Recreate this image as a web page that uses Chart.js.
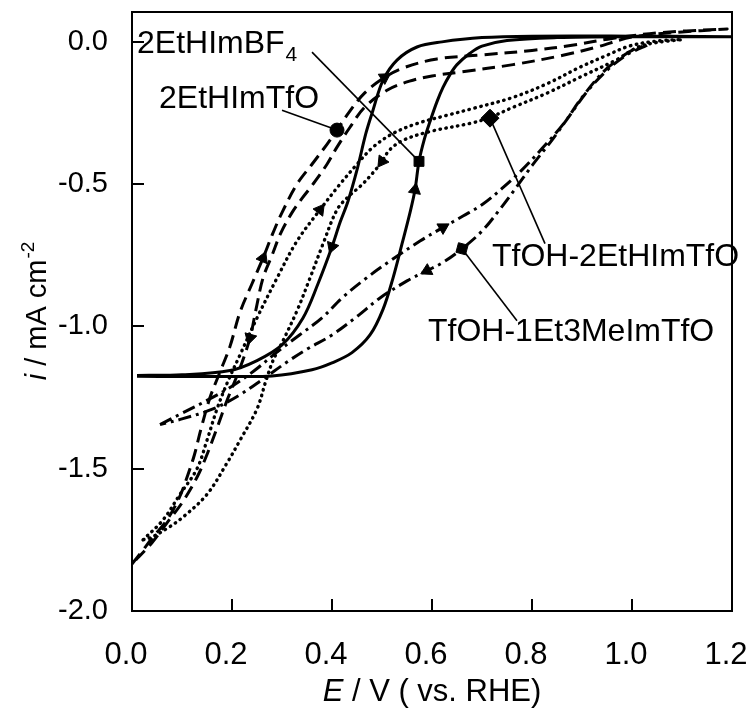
<!DOCTYPE html>
<html>
<head>
<meta charset="utf-8">
<script src="https://cdn.jsdelivr.net/npm/chart.js@4.4.1/dist/chart.umd.min.js"></script>
<style>
  html, body { margin: 0; padding: 0; background: #fff; }
  canvas { display: block; }
</style>
</head>
<body>
<canvas id="cv" width="751" height="713"></canvas>
<script>
// axis ticks
const xTicks = [0.0, 0.2, 0.4, 0.6, 0.8, 1.0, 1.2];
const xTickLabels = ['0.0', '0.2', '0.4', '0.6', '0.8', '1.0', '1.2'];
const yTicks = [-2.0, -1.5, -1.0, -0.5, 0.0];
const yTickLabels = ['-2.0', '-1.5', '-1.0', '-0.5', '0.0'];

// 2EtHImBF4 (solid) - forward sweep then return sweep
const bf4E = [0.01, 0.1, 0.2, 0.28, 0.36, 0.40, 0.44, 0.476, 0.502, 0.522, 0.54, 0.556, 0.566, 0.574, 0.585, 0.596, 0.61, 0.622, 0.636, 0.65, 0.676, 0.7, 0.75, 0.85, 1.0, 1.2,
              1.0, 0.8, 0.7, 0.62, 0.57, 0.53, 0.502, 0.482, 0.468, 0.45, 0.432, 0.416, 0.4, 0.372, 0.342, 0.3, 0.25, 0.196, 0.1, 0.01];
const bf4I = [-1.175, -1.176, -1.176, -1.174, -1.152, -1.128, -1.092, -1.03, -0.94, -0.83, -0.71, -0.6, -0.52, -0.42, -0.34, -0.28, -0.21, -0.16, -0.115, -0.08, -0.04, -0.015, 0.005, 0.015, 0.018, 0.018,
              0.02, 0.02, 0.015, 0.0, -0.018, -0.064, -0.135, -0.24, -0.32, -0.45, -0.56, -0.635, -0.72, -0.85, -0.97, -1.065, -1.12, -1.155, -1.17, -1.172];
const bf4Arrows = [12, 38];

// 2EtHImTfO (dashed)
const tfoE = [0.0, 0.02, 0.042, 0.07, 0.095, 0.112, 0.125, 0.138, 0.156, 0.176, 0.196, 0.216, 0.24, 0.262, 0.28, 0.3, 0.33, 0.36, 0.39, 0.41, 0.435, 0.465, 0.505, 0.545, 0.61, 0.7, 0.8, 0.88, 0.96, 1.06, 1.19,
              1.1, 1.0, 0.93, 0.862, 0.762, 0.66, 0.6, 0.555, 0.51, 0.465, 0.436, 0.41, 0.39, 0.362, 0.34, 0.32, 0.298, 0.28, 0.262, 0.248, 0.236, 0.216, 0.19, 0.17, 0.15, 0.13, 0.1, 0.07, 0.04, 0.0];
const tfoI = [-1.835, -1.79, -1.74, -1.68, -1.6, -1.52, -1.45, -1.36, -1.25, -1.16, -1.07, -0.95, -0.85, -0.76, -0.68, -0.6, -0.5, -0.43, -0.36, -0.31, -0.245, -0.18, -0.125, -0.09, -0.06, -0.046, -0.03, -0.012, 0.012, 0.033, 0.045,
              0.035, 0.017, -0.018, -0.047, -0.08, -0.105, -0.12, -0.138, -0.17, -0.23, -0.3, -0.37, -0.43, -0.5, -0.55, -0.6, -0.67, -0.75, -0.83, -0.94, -1.04, -1.146, -1.26, -1.357, -1.45, -1.53, -1.62, -1.69, -1.76, -1.835];
const tfoArrows = [13, 22, 51];

// TfOH-2EtHImTfO (dotted)
const tfoh2E = [0.022, 0.062, 0.096, 0.13, 0.15, 0.17, 0.19, 0.216, 0.25, 0.29, 0.33, 0.376, 0.416, 0.45, 0.482, 0.522, 0.57, 0.63, 0.682, 0.762, 0.83, 0.896, 0.95, 0.996, 1.05, 1.1,
                1.05, 1.01, 0.97, 0.896, 0.83, 0.762, 0.716, 0.68, 0.596, 0.542, 0.515, 0.5, 0.482, 0.458, 0.432, 0.41, 0.382, 0.356, 0.33, 0.302, 0.282, 0.268, 0.25, 0.216, 0.19, 0.15, 0.102, 0.07, 0.04, 0.022];
const tfoh2I = [-1.75, -1.68, -1.59, -1.5, -1.4, -1.29, -1.2, -1.1, -0.97, -0.83, -0.7, -0.59, -0.5, -0.43, -0.37, -0.322, -0.287, -0.258, -0.234, -0.195, -0.147, -0.089, -0.047, -0.014, 0.003, 0.008,
                -0.002, -0.02, -0.062, -0.124, -0.18, -0.23, -0.265, -0.285, -0.315, -0.346, -0.38, -0.42, -0.46, -0.505, -0.545, -0.59, -0.71, -0.83, -0.945, -1.05, -1.12, -1.19, -1.29, -1.4, -1.48, -1.59, -1.67, -1.71, -1.74, -1.75];
const tfoh2Arrows = [11, 37];

// TfOH-1Et3MeImTfO (dash-dot)
const tfoh1E = [0.056, 0.1, 0.15, 0.2, 0.245, 0.29, 0.335, 0.38, 0.42, 0.465, 0.516, 0.576, 0.622, 0.662, 0.702, 0.74, 0.78, 0.82, 0.862, 0.9, 0.94, 0.97, 1.0, 1.03,
                0.99, 0.95, 0.91, 0.875, 0.84, 0.8, 0.765, 0.735, 0.7, 0.66, 0.622, 0.59, 0.55, 0.496, 0.45, 0.4, 0.35, 0.31, 0.262, 0.216, 0.162, 0.1, 0.056];
const tfoh1I = [-1.345, -1.305, -1.26, -1.21, -1.155, -1.09, -1.03, -0.97, -0.9, -0.835, -0.77, -0.7, -0.652, -0.612, -0.57, -0.515, -0.45, -0.375, -0.29, -0.195, -0.11, -0.065, -0.03, -0.012,
                -0.045, -0.1, -0.175, -0.26, -0.345, -0.435, -0.52, -0.59, -0.665, -0.727, -0.775, -0.804, -0.84, -0.9, -0.965, -1.03, -1.08, -1.125, -1.185, -1.24, -1.29, -1.325, -1.345];
const tfoh1Arrows = [12, 35];

// series markers (one per curve, tied to the labels)
const seriesNames = ['2EtHImBF4', '2EtHImTfO', 'TfOH-2EtHImTfO', 'TfOH-1Et3MeImTfO'];
const markerE = [0.574, 0.41, 0.716, 0.66];
const markerI = [-0.42, -0.31, -0.268, -0.727];

const FONT = '"Liberation Sans", Arial, sans-serif';

function pts(E, I) {
  return E.map((e, i) => ({x: e, y: I[i]}));
}

// arrowheads: small triangles pointing along the sweep direction
function arrowOpts(arrows) {
  return {
    pointRadius: ctx => arrows.includes(ctx.dataIndex) ? 7 : 0,
    pointHoverRadius: 0,
    pointStyle: 'triangle',
    pointBackgroundColor: '#000',
    pointBorderColor: '#000',
    pointBorderWidth: 1,
    pointRotation: ctx => {
      const d = ctx.dataset.data, i = ctx.dataIndex;
      if (!arrows.includes(i)) return 0;
      const sx = ctx.chart.scales.x, sy = ctx.chart.scales.y;
      const a = d[Math.max(i - 1, 0)], b = d[Math.min(i + 1, d.length - 1)];
      const dx = sx.getPixelForValue(b.x) - sx.getPixelForValue(a.x);
      const dy = sy.getPixelForValue(b.y) - sy.getPixelForValue(a.y);
      return Math.atan2(dy, dx) * 180 / Math.PI + 90;
    }
  };
}

function curve(name, E, I, arrows, dash, width, cap) {
  return Object.assign({
    label: name,
    data: pts(E, I),
    showLine: true,
    borderColor: '#000',
    borderWidth: width,
    borderDash: dash,
    borderCapStyle: cap,
    tension: 0.35,
    fill: false
  }, arrowOpts(arrows));
}

function marker(k, style, r, rot) {
  return {
    label: seriesNames[k] + ' marker',
    data: [{x: markerE[k], y: markerI[k]}],
    pointStyle: style,
    pointRadius: r,
    pointRotation: rot,
    pointBackgroundColor: '#000',
    pointBorderColor: '#000',
    pointBorderWidth: 1
  };
}

// label text, anchor of the leader line (data units)
const labels = [
  {k: 0, text: '2EtHImBF', sub: '4', at: [0.01, -0.04], from: [0.36, -0.036]},
  {k: 1, text: '2EtHImTfO', at: [0.054, -0.233], from: [0.30, -0.24]},
  {k: 2, text: 'TfOH-2EtHImTfO', at: [0.72, -0.786], from: [0.826, -0.709]},
  {k: 3, text: 'TfOH-1Et3MeImTfO', at: [0.592, -1.05], from: [0.77, -0.98]}
];

const decor = {
  id: 'decor',
  beforeDatasetsDraw(chart) {
    const {ctx, scales: {x, y}} = chart;
    ctx.save();
    ctx.strokeStyle = '#000';
    ctx.lineWidth = 1.6;
    labels.forEach(l => {
      ctx.beginPath();
      ctx.moveTo(x.getPixelForValue(l.from[0]), y.getPixelForValue(l.from[1]));
      ctx.lineTo(x.getPixelForValue(markerE[l.k]), y.getPixelForValue(markerI[l.k]));
      ctx.stroke();
    });
    ctx.restore();
  },
  afterDraw(chart) {
    const {ctx, chartArea: a, scales: {x, y}} = chart;
    ctx.save();
    ctx.strokeStyle = '#000';
    ctx.lineWidth = 2;
    ctx.strokeRect(a.left, a.top, a.right - a.left, a.bottom - a.top);

    ctx.fillStyle = '#000';
    ctx.textBaseline = 'alphabetic';
    ctx.textAlign = 'left';
    labels.forEach(l => {
      const px = x.getPixelForValue(l.at[0]), py = y.getPixelForValue(l.at[1]);
      ctx.font = '32px ' + FONT;
      ctx.fillText(l.text, px, py);
      if (l.sub) {
        const w = ctx.measureText(l.text).width;
        ctx.font = '21px ' + FONT;
        ctx.fillText(l.sub, px + w + 1, py + 8);
      }
    });

    // x title: E / V ( vs. RHE)
    const p1 = 'E', p2 = ' / V ( vs. RHE)';
    ctx.font = 'italic 31px ' + FONT;
    const w1 = ctx.measureText(p1).width;
    ctx.font = '31px ' + FONT;
    const w2 = ctx.measureText(p2).width;
    let sx = (a.left + a.right) / 2 - (w1 + w2) / 2;
    ctx.font = 'italic 31px ' + FONT;
    ctx.fillText(p1, sx, 701);
    ctx.font = '31px ' + FONT;
    ctx.fillText(p2, sx + w1, 701);

    // y title: i / mA cm-2
    ctx.translate(46, (a.top + a.bottom) / 2);
    ctx.rotate(-Math.PI / 2);
    const q1 = 'i', q2 = ' / mA cm', q3 = '-2';
    ctx.font = 'italic 29px ' + FONT;
    const v1 = ctx.measureText(q1).width;
    ctx.font = '29px ' + FONT;
    const v2 = ctx.measureText(q2).width;
    ctx.font = '19px ' + FONT;
    const v3 = ctx.measureText(q3).width;
    let tx = -(v1 + v2 + v3) / 2;
    ctx.font = 'italic 29px ' + FONT;
    ctx.fillText(q1, tx, 0);
    ctx.font = '29px ' + FONT;
    ctx.fillText(q2, tx + v1, 0);
    ctx.font = '19px ' + FONT;
    ctx.fillText(q3, tx + v1 + v2 + 1, -12);
    ctx.restore();
  }
};

function noPad(s) {
  s.paddingTop = 0; s.paddingBottom = 0; s.paddingLeft = 0; s.paddingRight = 0;
}

new Chart(document.getElementById('cv'), {
  type: 'scatter',
  data: {
    datasets: [
      curve(seriesNames[0], bf4E, bf4I, bf4Arrows, [], 3, 'butt'),
      curve(seriesNames[1], tfoE, tfoI, tfoArrows, [13, 7], 3, 'butt'),
      curve(seriesNames[2], tfoh2E, tfoh2I, tfoh2Arrows, [0.5, 5.5], 3.4, 'round'),
      curve(seriesNames[3], tfoh1E, tfoh1I, tfoh1Arrows, [13, 5, 3, 5], 3, 'butt'),
      marker(0, 'rect', 7, 0),
      marker(1, 'circle', 7, 0),
      marker(2, 'rectRot', 9, 0),
      marker(3, 'rect', 7, 15)
    ]
  },
  options: {
    responsive: false,
    animation: false,
    events: [],
    layout: {padding: {top: 12, right: 19, left: 0, bottom: 0}},
    plugins: {legend: {display: false}, tooltip: {enabled: false}},
    scales: {
      x: {
        type: 'linear',
        min: 0, max: 1.2,
        afterBuildTicks: s => { s.ticks = xTicks.map(v => ({value: v})); },
        afterFit: s => { s.height = 102; noPad(s); },
        border: {display: false},
        grid: {drawOnChartArea: false, drawTicks: true, tickLength: -12, lineWidth: 2, color: '#000'},
        ticks: {
          padding: 38,
          labelOffset: -6,
          maxRotation: 0,
          color: '#000',
          font: {family: FONT, size: 31},
          callback: (v, i) => xTickLabels[i]
        }
      },
      y: {
        type: 'linear',
        min: -2.0, max: 0.105,
        afterBuildTicks: s => { s.ticks = yTicks.map(v => ({value: v})); },
        afterFit: s => { s.width = 132; noPad(s); },
        border: {display: false},
        grid: {drawOnChartArea: false, drawTicks: true, tickLength: -12, lineWidth: 2, color: '#000'},
        ticks: {
          padding: 36,
          color: '#000',
          font: {family: FONT, size: 29},
          callback: (v, i) => yTickLabels[i]
        }
      }
    }
  },
  plugins: [decor]
});
</script>
</body>
</html>
